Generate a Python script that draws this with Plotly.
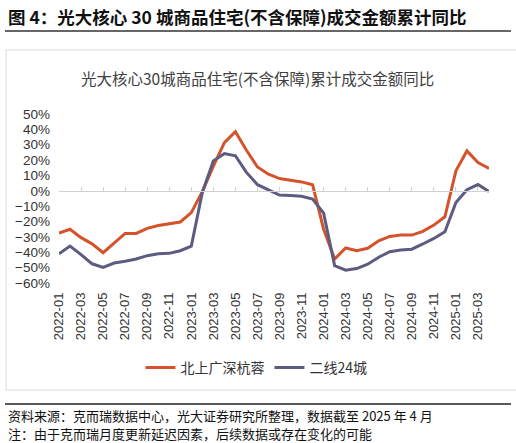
import plotly.graph_objects as go

# 月份 2022-01 ~ 2025-04
months = [f"{y}-{m:02d}" for y in range(2022, 2026) for m in range(1, 13)][:40]
tick_months = months[::2]

# 累计成交金额同比 (%)
tier1 = [-27.5, -25, -30.5, -34.5, -40.3, -34, -27.7, -27.7, -24.4, -22.6, -21.6, -20.3,
         -14.2, -0.5, 16, 31.4, 38.5, 26.4, 15.5, 10.8, 8, 6.9, 5.8, 3.9,
         -25, -44.4, -37.2, -39, -37.4, -32.5, -29.7, -28.8, -28.8, -26.4, -22.3, -16.9,
         13, 26, 18.4, 14.6]
tier2 = [-41, -36, -41.5, -47.5, -49.8, -47, -45.9, -44.4, -42.2, -41, -40.7, -39,
         -36, -1, 19.5, 24.2, 22.8, 12, 4, 0.6, -2.8, -3, -3.5, -5.4,
         -14.5, -48.7, -51.7, -50.6, -47.8, -43.2, -39.6, -38.5, -38, -34.6, -31, -26.7,
         -7.6, 0.7, 4.1, -0.5]
series_names = ["北上广深杭蓉", "二线24城"]

W, H = 516, 443
L, R, T, B = 59, 27, 114, 160
YMIN, YMAX = -60, 50


def px(x):
    return (x - L) / (W - L - R)


def py(y):
    return (H - B - y) / (H - T - B)


CJK = "Noto Sans CJK SC"
LAT = "Liberation Sans, Noto Sans CJK SC"

fig = go.Figure()
fig.add_trace(go.Scatter(x=months, y=tier1, name=series_names[0], mode="lines",
                         line=dict(color="#D4532B", width=3)))
fig.add_trace(go.Scatter(x=months, y=tier2, name=series_names[1], mode="lines",
                         line=dict(color="#5C5B81", width=3)))
# 零轴刻度用的辅助轴
fig.add_trace(go.Scatter(x=months, y=[None] * len(months), xaxis="x2", yaxis="y",
                         showlegend=False, hoverinfo="skip"))

fig.update_layout(
    width=W, height=H,
    margin=dict(l=L, r=R, t=T, b=B),
    paper_bgcolor="white", plot_bgcolor="white",
    font=dict(family=LAT, color="#333333"),
    xaxis=dict(type="category", categoryorder="array", categoryarray=months,
               range=[0, len(months) - 1], tickmode="array", tickvals=tick_months,
               tickangle=-90, showgrid=False, showline=False, zeroline=False,
               ticks="", ticklabelstandoff=6, tickfont=dict(size=13, color="#333333")),
    xaxis2=dict(type="category", categoryorder="array", categoryarray=months,
                range=[0, len(months) - 1], overlaying="x", anchor="free",
                position=(0 - YMIN) / (YMAX - YMIN), side="bottom",
                tickmode="array", tickvals=tick_months, showticklabels=False,
                ticks="inside", ticklen=4, tickcolor="#D0D0D0", showline=True,
                linecolor="#D0D0D0", linewidth=1, showgrid=False, zeroline=False),
    yaxis=dict(range=[YMIN, YMAX], dtick=10, ticksuffix="%", showgrid=False,
               zeroline=False, showline=False, ticklabelstandoff=8,
               tickfont=dict(size=13.5, color="#333333")),
    legend=dict(orientation="h", xref="container", yref="container",
                x=0.497, y=(H - 368) / H, xanchor="center", yanchor="middle",
                font=dict(family=CJK, size=14, color="#333333")),
    showlegend=True,
)

fig.add_annotation(x=px(6), y=py(17), xref="paper", yref="paper", showarrow=False,
                   xanchor="left", yanchor="middle",
                   text="<b>图 4：光大核心 30 城商品住宅(不含保障)成交金额累计同比</b>",
                   font=dict(family=CJK, size=17.5, color="#111111"))
fig.add_annotation(x=px(257), y=py(78), xref="paper", yref="paper", showarrow=False,
                   xanchor="center", yanchor="middle",
                   text="光大核心30城商品住宅(不含保障)累计成交金额同比",
                   font=dict(family=CJK, size=15.5, color="#404040"))
fig.add_annotation(x=px(6), y=py(415), xref="paper", yref="paper", showarrow=False,
                   xanchor="left", yanchor="middle",
                   text="资料来源：克而瑞数据中心，光大证券研究所整理，数据截至 2025 年 4 月",
                   font=dict(family=CJK, size=13, color="#111111"))
fig.add_annotation(x=px(6), y=py(433), xref="paper", yref="paper", showarrow=False,
                   xanchor="left", yanchor="middle",
                   text="注：由于克而瑞月度更新延迟因素，后续数据或存在变化的可能",
                   font=dict(family=CJK, size=13, color="#111111"))

fig.add_shape(type="line", xref="paper", yref="paper", x0=px(5), x1=px(511),
              y0=py(31), y1=py(31), line=dict(color="#333333", width=1.5))
fig.add_shape(type="rect", xref="paper", yref="paper", x0=px(6), x1=px(530),
              y0=py(50), y1=py(390), line=dict(color="#DADADA", width=1))
fig.add_shape(type="line", xref="paper", yref="paper", x0=px(5), x1=px(511),
              y0=py(404), y1=py(404), line=dict(color="#222222", width=1.5))

# 去掉页面默认边距，使图表贴齐窗口左上角
fig.write_html("out.html", config={"displayModeBar": False},
               post_script="document.body.style.margin='0';")
